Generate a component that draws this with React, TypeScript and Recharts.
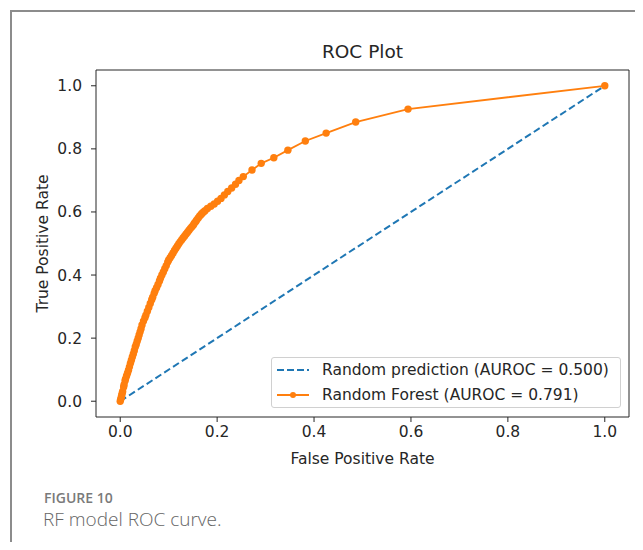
import React from 'react';
import { LineChart, Line, XAxis, YAxis, Legend, ReferenceArea } from 'recharts';

// ROC points (false positive rate / true positive rate)
const rfFpr = [
  0, 0.001, 0.002, 0.003, 0.004, 0.005, 0.007, 0.008, 0.01, 0.011, 0.013, 0.015, 0.017, 0.019,
  0.021, 0.023, 0.025, 0.027, 0.029, 0.031, 0.033, 0.035, 0.037, 0.039, 0.041, 0.043, 0.045, 0.048,
  0.051, 0.053, 0.056, 0.059, 0.062, 0.065, 0.067, 0.07, 0.072, 0.075, 0.078, 0.081, 0.083, 0.086,
  0.089, 0.092, 0.095, 0.098, 0.1, 0.103, 0.106, 0.109, 0.112, 0.115, 0.118, 0.121, 0.124, 0.127,
  0.13, 0.133, 0.136, 0.139, 0.142, 0.145, 0.148, 0.151, 0.153, 0.156, 0.158, 0.161, 0.164, 0.167,
  0.169, 0.172, 0.175, 0.18, 0.187, 0.194, 0.201, 0.208, 0.215, 0.222, 0.23, 0.238, 0.245, 0.254,
  0.272, 0.291, 0.317, 0.346, 0.382, 0.425, 0.486, 0.594, 1,
];
const rfTpr = [
  0, 0.006, 0.012, 0.018, 0.025, 0.031, 0.045, 0.052, 0.065, 0.071, 0.08, 0.089, 0.098, 0.109,
  0.12, 0.13, 0.14, 0.15, 0.16, 0.172, 0.18, 0.19, 0.2, 0.21, 0.22, 0.23, 0.242, 0.254,
  0.265, 0.273, 0.285, 0.297, 0.31, 0.322, 0.33, 0.342, 0.35, 0.36, 0.37, 0.381, 0.39, 0.4,
  0.41, 0.42, 0.43, 0.441, 0.448, 0.455, 0.462, 0.47, 0.478, 0.485, 0.492, 0.499, 0.506, 0.512,
  0.518, 0.524, 0.53, 0.536, 0.542, 0.548, 0.553, 0.559, 0.564, 0.57, 0.575, 0.581, 0.587, 0.592,
  0.596, 0.6, 0.604, 0.611, 0.618, 0.625, 0.634, 0.643, 0.654, 0.665, 0.676, 0.688, 0.7, 0.712,
  0.733, 0.754, 0.772, 0.796, 0.825, 0.85, 0.885, 0.926, 1,
];
const diagFpr = [0, 1];
const diagTpr = [0, 1];

const seriesNames = ['Random prediction (AUROC = 0.500)', 'Random Forest (AUROC = 0.791)'];
const seriesColors = ['#1f77b4', '#ff7f0e'];
const ticks = [0, 0.2, 0.4, 0.6, 0.8, 1.0];

const rfData = rfFpr.map((fpr, i) => ({ fpr, tpr: rfTpr[i] }));
const diagData = diagFpr.map((fpr, i) => ({ fpr, tpr: diagTpr[i] }));

const FONT = '"DejaVu Sans", sans-serif';
const INK = '#262626';

const LegendBox = () => (
  <div
    style={{
      width: 348,
      height: 49,
      border: '1px solid #d0d0d0',
      borderRadius: 3,
      background: 'rgba(255,255,255,0.8)',
      fontFamily: FONT,
      fontSize: 15.5,
      color: INK,
      position: 'relative',
    }}
  >
    {seriesNames.map((name, i) => (
      <div
        key={name}
        style={{ position: 'absolute', left: 0, top: i === 0 ? 1 : 26, height: 22, display: 'flex', alignItems: 'center', whiteSpace: 'nowrap' }}
      >
        <svg width={50} height={22}>
          <line
            x1={5}
            x2={37}
            y1={11}
            y2={11}
            stroke={seriesColors[i]}
            strokeWidth={2}
            strokeDasharray={i === 0 ? '7 3' : undefined}
          />
          {i === 1 && <circle cx={21} cy={11} r={3} fill={seriesColors[i]} />}
        </svg>
        <span>{name}</span>
      </div>
    ))}
  </div>
);

export default function App() {
  return (
    <div style={{ position: 'relative', width: 627, height: 534, overflow: 'hidden', fontFamily: FONT }}>
      <div
        style={{
          position: 'absolute',
          left: 2,
          top: 2,
          width: 700,
          height: 600,
          borderLeft: '2px solid #8c8c8c',
          borderTop: '2px solid #8c8c8c',
        }}
      />
      <div
        style={{
          position: 'absolute',
          left: 88,
          width: 533,
          top: 33,
          textAlign: 'center',
          fontSize: 18.5,
          color: INK,
        }}
      >
        ROC Plot
      </div>
      <div style={{ position: 'absolute', left: 0, top: 0 }}>
        <LineChart width={627} height={469} margin={{ top: 62, right: 6, bottom: 0, left: 0 }}>
          <XAxis
            type="number"
            dataKey="fpr"
            domain={[-0.05, 1.05]}
            allowDataOverflow
            ticks={ticks}
            tickFormatter={(v: number) => v.toFixed(1)}
            height={60}
            axisLine={false}
            tickSize={5}
            tickMargin={4}
            tickLine={{ stroke: INK }}
            tick={{ fill: INK, fontSize: 15.5, fontFamily: FONT }}
            label={{ value: 'False Positive Rate', position: 'insideBottom', offset: 13, fill: INK, fontSize: 15.5, fontFamily: FONT }}
          />
          <YAxis
            type="number"
            dataKey="tpr"
            domain={[-0.05, 1.05]}
            allowDataOverflow
            ticks={ticks}
            tickFormatter={(v: number) => v.toFixed(1)}
            width={88}
            axisLine={false}
            tickSize={5}
            tickMargin={9}
            tickLine={{ stroke: INK }}
            tick={{ fill: INK, fontSize: 15.5, fontFamily: FONT }}
            label={{
              value: 'True Positive Rate',
              angle: -90,
              position: 'insideLeft',
              offset: 34,
              fill: INK,
              fontSize: 15.5,
              fontFamily: FONT,
              style: { textAnchor: 'middle' },
            }}
          />
          <Line
            data={diagData}
            dataKey="tpr"
            name={seriesNames[0]}
            type="linear"
            stroke={seriesColors[0]}
            strokeWidth={2}
            strokeDasharray="7 3.5"
            dot={false}
            activeDot={false}
            isAnimationActive={false}
          />
          <Line
            data={rfData}
            dataKey="tpr"
            name={seriesNames[1]}
            type="linear"
            stroke={seriesColors[1]}
            strokeWidth={1.8}
            dot={{ r: 3.7, fill: seriesColors[1], stroke: 'none' }}
            activeDot={false}
            isAnimationActive={false}
          />
          <ReferenceArea
            x1={-0.05}
            x2={1.05}
            y1={-0.05}
            y2={1.05}
            fill="none"
            stroke={INK}
            strokeWidth={1}
            ifOverflow="visible"
          />
          <Legend
            verticalAlign="middle"
            content={() => <LegendBox />}
            wrapperStyle={{ left: 263, top: 349, width: 350, height: 51 }}
          />
        </LineChart>
      </div>
      <div
        style={{
          position: 'absolute',
          left: 36,
          top: 482,
          lineHeight: '16px',
          fontFamily: '"Open Sans", sans-serif',
          fontWeight: 600,
          fontSize: 14,
          color: '#7a7a7a',
        }}
      >
        FIGURE 10
      </div>
      <div
        style={{
          position: 'absolute',
          left: 35,
          top: 500,
          lineHeight: '22px',
          fontFamily: '"Open Sans", sans-serif',
          fontWeight: 300,
          fontSize: 19,
          color: '#666',
        }}
      >
        RF model ROC curve.
      </div>
    </div>
  );
}
